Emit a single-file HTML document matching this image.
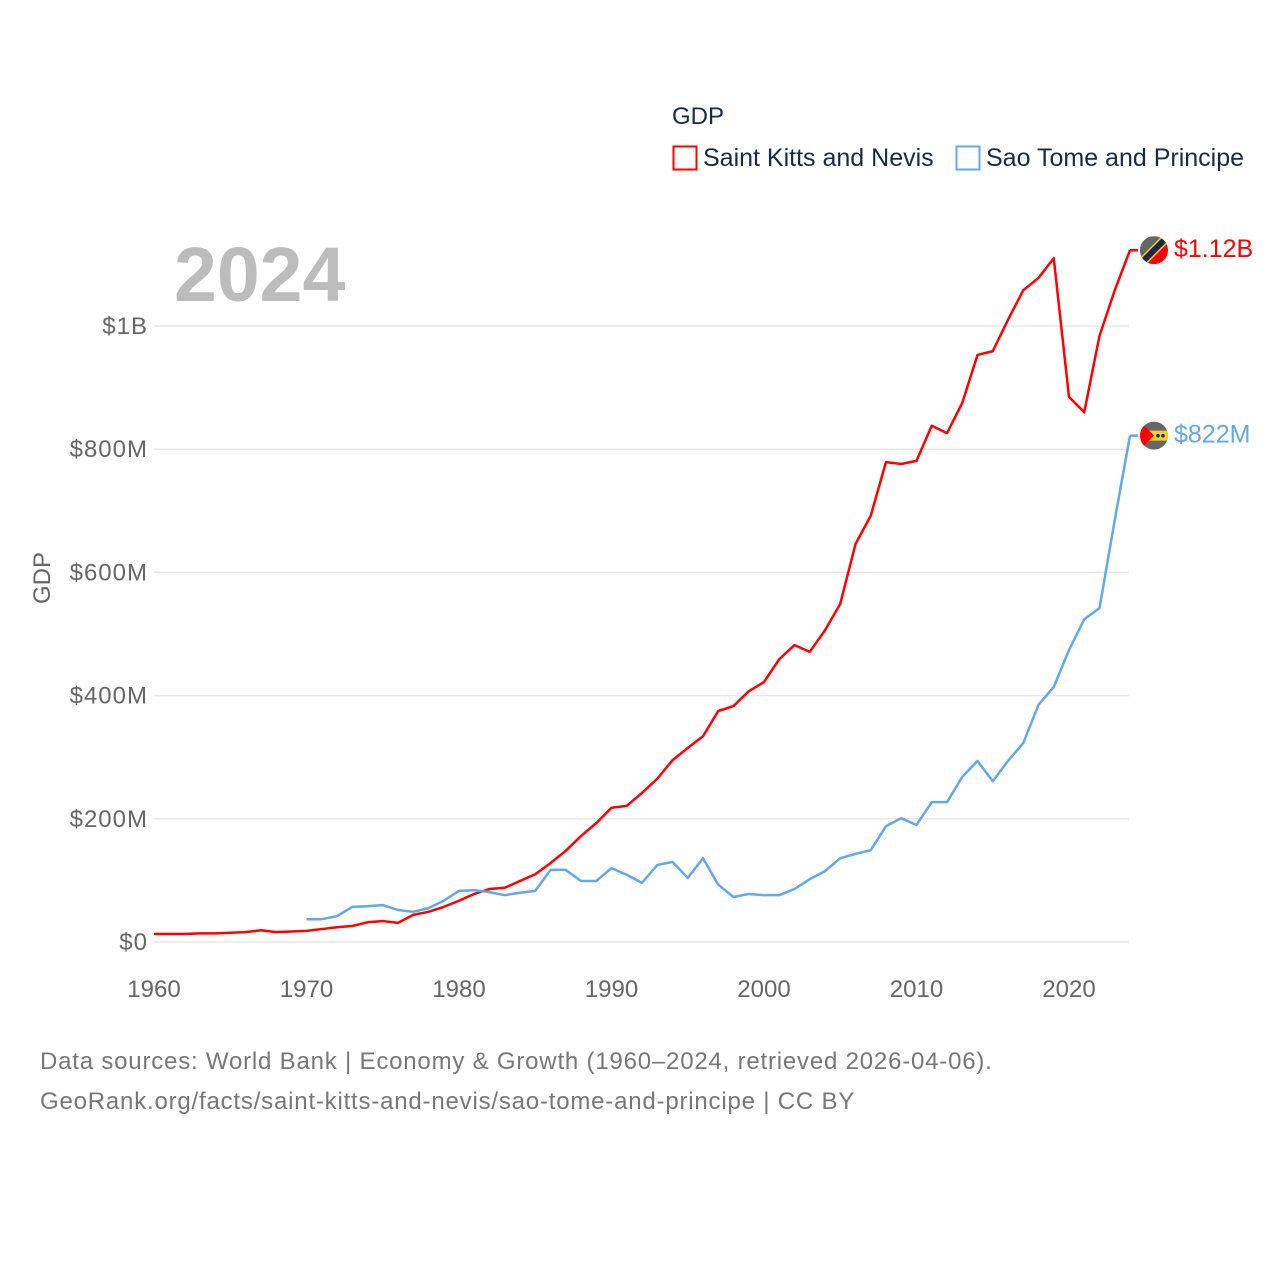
<!DOCTYPE html>
<html><head><meta charset="utf-8"><style>
html,body{margin:0;padding:0;background:#fff;}
svg{display:block;font-family:"Liberation Sans",sans-serif;}
</style></head><body>
<svg id="chart" width="1280" height="1280" viewBox="0 0 1280 1280">
<g id="legend">
<text x="672" y="124" font-size="24" fill="#1a2a44">GDP</text>
<rect x="673.5" y="146.5" width="23" height="23" fill="none" stroke="#ff0000" stroke-width="2"/>
<text x="703" y="166" font-size="25" fill="#1a2a44">Saint Kitts and Nevis</text>
<rect x="956.5" y="146.5" width="23" height="23" fill="none" stroke="#62a8ea" stroke-width="2"/>
<text x="986" y="166" font-size="25" fill="#1a2a44">Sao Tome and Principe</text>
</g>
<text x="174" y="301" font-size="77" font-weight="bold" fill="#bcbcbc">2024</text>
<g id="grid"></g>
<g id="yticks"></g>
<g id="xticks"></g>
<text transform="translate(50,578) rotate(-90)" text-anchor="middle" font-size="24" fill="#666">GDP</text>
<g id="series"></g>
<g id="endlabels"></g>
<text x="40" y="1069" font-size="24" letter-spacing="0.8" fill="#777">Data sources: World Bank | Economy &amp; Growth (1960–2024, retrieved 2026-04-06).</text>
<text x="40" y="1109" font-size="24" letter-spacing="0.8" fill="#777">GeoRank.org/facts/saint-kitts-and-nevis/sao-tome-and-principe | CC BY</text>
</svg>
<script>
const sknStart = 1960;
const sknValues = [13,13,13,14,14,15,16,19,16,17,18,21,24,26,32,34,31,44,49,57,67,78,86,88,99,110,128,148,172,193,218,221,242,265,295,315,334,375,383,407,422,459,482,471,506,549,646,692,779,776,781,838,826,875,953,959,1010,1058,1078,1110,885,860,984,1058,1123];
const stpStart = 1970;
const stpValues = [37,37,42,57,58,60,52,49,55,67,83,84,81,76,80,83,117,117,99,99,120,109,96,125,130,104,136,93,73,78,76,76,86,102,115,136,143,149,188,201,190,227,227,268,294,261,294,323,385,414,474,524,542,685,822];
const yTickValues = [0,200,400,600,800,1000];
const yTickLabels = ["$0","$200M","$400M","$600M","$800M","$1B"];
const xTickValues = [1960,1970,1980,1990,2000,2010,2020];
const endLabels = ["$1.12B","$822M"];

const NS="http://www.w3.org/2000/svg";
function xs(yr){return 154+(yr-1960)*15.25;}
function ys(v){return 942-v*0.616;}
function mk(tag,attrs,parent){const e=document.createElementNS(NS,tag);for(const k in attrs)e.setAttribute(k,attrs[k]);parent.appendChild(e);return e;}
const grid=document.getElementById('grid'),yt=document.getElementById('yticks'),xt=document.getElementById('xticks'),ser=document.getElementById('series'),el=document.getElementById('endlabels');
yTickValues.forEach((v,i)=>{
  const l=mk('line',{x1:154,x2:1129,y1:ys(v),y2:ys(v),stroke:'#e8e8e8','stroke-width':1.5},grid);
  
  
  const t=mk('text',{x:148,y:ys(v)+8,'text-anchor':'end','font-size':24,'letter-spacing':1,fill:'#666'},yt);
  t.textContent=yTickLabels[i];
  
  
});
xTickValues.forEach(v=>{
  const t=mk('text',{x:xs(v),y:997,'text-anchor':'middle','font-size':24,fill:'#666'},xt);
  t.textContent=v;
  
  
});
function line(start,vals,color,name){
  const pts=vals.map((v,i)=>xs(start+i)+','+ys(v)).join(' ');
  const p=mk('polyline',{points:pts,fill:'none',stroke:color,'stroke-width':2.5,'stroke-linejoin':'round'},ser);
  
  
  const last=vals[vals.length-1],lx=xs(start+vals.length-1),ly=ys(last);
  const s=mk('line',{x1:lx,x2:lx+8,y1:ly,y2:ly,stroke:color,'stroke-width':2.5},ser);
  
  
  return ly;
}
const y1=line(sknStart,sknValues,'#ff0000','line-saint-kitts');
const y2=line(stpStart,stpValues,'#62a8ea','line-sao-tome');
function flag(cy,kind){
  const g=mk('g',{},el);
  
  
  const id='c'+kind;
  const cp=mk('clipPath',{id:id},g);mk('circle',{cx:1154,cy:cy,r:14},cp);
  const inner=mk('g',{'clip-path':'url(#'+id+')'},g);
  if(kind==='skn'){
    mk('rect',{x:1140,y:cy-14,width:28,height:28,fill:'#ff0000'},inner);
    mk('polygon',{points:`1140,${cy-14} 1168,${cy-14} 1140,${cy+14}`,fill:'#666'},inner);
    mk('line',{x1:1142,y1:cy+12,x2:1166,y2:cy-12,stroke:'#f5d020','stroke-width':9},inner);
    mk('line',{x1:1142,y1:cy+12,x2:1166,y2:cy-12,stroke:'#1a2a44','stroke-width':6},inner);
  }else{
    mk('rect',{x:1140,y:cy-14,width:28,height:28,fill:'#666'},inner);
    mk('rect',{x:1140,y:cy-5,width:28,height:10,fill:'#f5d020'},inner);
    mk('polygon',{points:`1140,${cy-14} 1154,${cy} 1140,${cy+14}`,fill:'#ff0000'},inner);
    mk('circle',{cx:1158,cy:cy,r:1.8,fill:'#1a2a44'},inner);
    mk('circle',{cx:1163,cy:cy,r:1.8,fill:'#1a2a44'},inner);
  }
}
flag(y1,'skn');flag(y2,'stp');
[[y1,'#ff0000',endLabels[0],'end-label-saint-kitts'],[y2,'#62a8ea',endLabels[1],'end-label-sao-tome']].forEach(a=>{
  const t=mk('text',{x:1174,y:a[0]+7,'font-size':25,fill:a[1]},el);
  t.textContent=a[2];
  
  
});
</script>
</body></html>
